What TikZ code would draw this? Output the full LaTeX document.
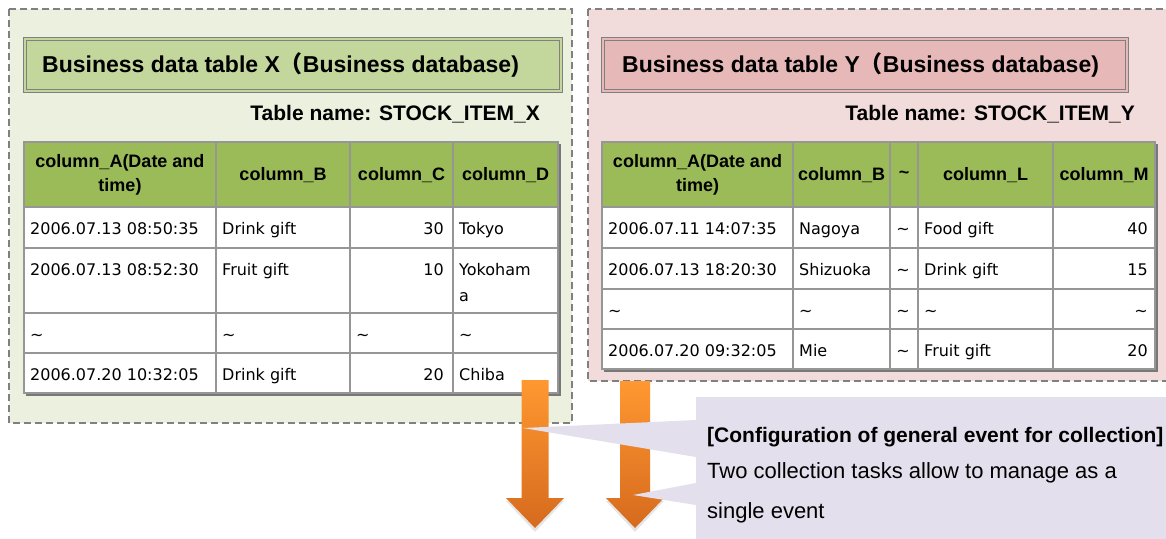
\documentclass[tikz,border=0pt]{standalone}
\usepackage{fontspec}
\setmainfont{Liberation Sans}
\newfontfamily\datafont{DejaVu Sans}
\newfontfamily\cjkfont{Noto Sans CJK JP}

\definecolor{frame}{RGB}{128,128,128}
\definecolor{greenbg}{RGB}{235,241,222}
\definecolor{greentitle}{RGB}{195,214,155}
\definecolor{hdrgreen}{RGB}{155,187,89}
\definecolor{pinkbg}{RGB}{242,220,219}
\definecolor{pinktitle}{RGB}{230,185,184}
\definecolor{gridgray}{RGB}{150,150,150}
\definecolor{shadowgray}{RGB}{120,120,120}
\definecolor{calloutbg}{RGB}{228,223,236}
\definecolor{arrowtop}{RGB}{255,152,48}
\definecolor{arrowbot}{RGB}{214,106,30}

\tikzset{
  groupbox/.style={draw=frame, line width=1.3pt, dash pattern=on 7pt off 4pt},
  titleframe/.style={draw=frame, line width=1pt, double distance=2.2pt},
  titletext/.style={anchor=west, inner sep=0pt, font=\bfseries\fontsize{23}{26}\selectfont},
  tabname/.style={anchor=east, inner sep=0pt, font=\bfseries\fontsize{21}{24}\selectfont},
  gridline/.style={draw=gridgray, line width=1.6pt},
  hdr/.style={anchor=center, align=center, inner sep=0pt, font=\bfseries\fontsize{18}{24}\selectfont},
  cellL/.style={anchor=base west, inner sep=0pt, font=\datafont\fontsize{16}{26}\selectfont},
  cellR/.style={anchor=base east, inner sep=0pt, font=\datafont\fontsize{16}{26}\selectfont},
  cellC/.style={anchor=base, inner sep=0pt, font=\datafont\fontsize{16}{26}\selectfont},
  callhead/.style={anchor=base west, inner sep=0pt, font=\bfseries\fontsize{21}{24}\selectfont},
  callbody/.style={anchor=base west, inner sep=0pt, font=\fontsize{22}{26}\selectfont},
  bigarrow/.style={top color=arrowtop, bottom color=arrowbot},
  headshadow/.style={fill=black, opacity=0.10}
}

\begin{document}
\begin{tikzpicture}[x=1pt, y=-1pt]
\useasboundingbox (0,0) rectangle (1166,538);
\fill[white] (0,0) rectangle (1166,538);

% ---------- group X (green) ----------
\draw[groupbox, fill=greenbg] (9,9) rectangle (572,423);
\draw[titleframe, double=greentitle, fill=greentitle] (25,39) rectangle (561,91);
\node[titletext] (titleX) at (42,65) {Business data table X{\cjkfont （}Business database)};
\node[tabname] (nameX) at (540,114) {Table name: STOCK\_ITEM\_X};

\fill[shadowgray] (26,144) rectangle (560.5,395.5);
\fill[white] (24,142) rectangle (558,393);
\fill[hdrgreen] (24,142) rectangle (558,207);
\foreach \yy in {207,248,313,353} \draw[gridline] (24,\yy) -- (558,\yy);
\foreach \xx in {216,350,453} \draw[gridline] (\xx,142) -- (\xx,393);
\draw[gridline] (24,142) rectangle (558,393);

\node[hdr] (xhA) at (120,175) {column\_A(Date and\\time)};
\node[hdr] (xhB) at (283,175) {column\_B};
\node[hdr] (xhC) at (401.5,175) {column\_C};
\node[hdr] (xhD) at (505.5,175) {column\_D};

\node[cellL] (x1A) at (30,234) {2006.07.13 08:50:35};
\node[cellL] (x1B) at (222,234) {Drink gift};
\node[cellR] (x1C) at (444,234) {30};
\node[cellL] (x1D) at (459,234) {Tokyo};

\node[cellL] (x2A) at (30,275) {2006.07.13 08:52:30};
\node[cellL] (x2B) at (222,275) {Fruit gift};
\node[cellR] (x2C) at (444,275) {10};
\node[cellL] (x2D) at (459,275) {Yokoham};
\node[cellL] (x2Dw) at (459,301) {a};

\node[cellL] (x3A) at (30,340) {\textasciitilde};
\node[cellL] (x3B) at (222,340) {\textasciitilde};
\node[cellL] (x3C) at (356,340) {\textasciitilde};
\node[cellL] (x3D) at (459,340) {\textasciitilde};

\node[cellL] (x4A) at (30,380) {2006.07.20 10:32:05};
\node[cellL] (x4B) at (222,380) {Drink gift};
\node[cellR] (x4C) at (444,380) {20};
\node[cellL] (x4D) at (459,380) {Chiba};

% ---------- group Y (pink) ----------
\draw[groupbox, fill=pinkbg] (588,9) rectangle (1180,381);
\draw[titleframe, double=pinktitle, fill=pinktitle] (603,39) rectangle (1127,91);
\node[titletext] (titleY) at (622,65) {Business data table Y{\cjkfont （}Business database)};
\node[tabname] (nameY) at (1135,114) {Table name: STOCK\_ITEM\_Y};

\fill[shadowgray] (604,144) rectangle (1157.5,371.5);
\fill[white] (602,142) rectangle (1155,369);
\fill[hdrgreen] (602,142) rectangle (1155,207);
\foreach \yy in {207,248,289,329} \draw[gridline] (602,\yy) -- (1155,\yy);
\foreach \xx in {793,890,918,1053} \draw[gridline] (\xx,142) -- (\xx,369);
\draw[gridline] (602,142) rectangle (1155,369);

\node[hdr] (yhA) at (697.5,175) {column\_A(Date and\\time)};
\node[hdr] (yhB) at (841.5,175) {column\_B};
\node[hdr] (yhT) at (904,175) {\textasciitilde};
\node[hdr] (yhL) at (985.5,175) {column\_L};
\node[hdr] (yhM) at (1104,175) {column\_M};

\node[cellL] (y1A) at (608,234) {2006.07.11 14:07:35};
\node[cellL] (y1B) at (799,234) {Nagoya};
\node[cellC] (y1T) at (903,234) {\textasciitilde};
\node[cellL] (y1L) at (924,234) {Food gift};
\node[cellR] (y1M) at (1148,234) {40};

\node[cellL] (y2A) at (608,275) {2006.07.13 18:20:30};
\node[cellL] (y2B) at (799,275) {Shizuoka};
\node[cellC] (y2T) at (903,275) {\textasciitilde};
\node[cellL] (y2L) at (924,275) {Drink gift};
\node[cellR] (y2M) at (1148,275) {15};

\node[cellL] (y3A) at (608,316) {\textasciitilde};
\node[cellL] (y3B) at (799,316) {\textasciitilde};
\node[cellC] (y3T) at (903,316) {\textasciitilde};
\node[cellL] (y3L) at (924,316) {\textasciitilde};
\node[cellR] (y3M) at (1148,316) {\textasciitilde};

\node[cellL] (y4A) at (608,356) {2006.07.20 09:32:05};
\node[cellL] (y4B) at (799,356) {Mie};
\node[cellC] (y4T) at (903,356) {\textasciitilde};
\node[cellL] (y4L) at (924,356) {Fruit gift};
\node[cellR] (y4M) at (1148,356) {20};

% ---------- block arrows ----------
\fill[headshadow] (506,501) -- (564,501) -- (535,532) -- cycle;
\fill[headshadow] (606,501) -- (664,501) -- (635,532) -- cycle;
\shade[bigarrow] (521.5,380) -- (548.5,380) -- (548.5,498) -- (564,498)
  -- (535,528) -- (506,498) -- (521.5,498) -- cycle;
\shade[bigarrow] (620,381) -- (650,381) -- (650,498) -- (664,498)
  -- (635,528) -- (606,498) -- (620,498) -- cycle;

% ---------- callout ----------
\fill[calloutbg] (696,397) -- (1180,397) -- (1180,545) -- (696,545)
  -- (696,505) -- (633,495) -- (696,483) -- (696,457) -- (523,428)
  -- (696,420) -- cycle;
\node[callhead] (callHead) at (707,442) {[Configuration of general event for collection]};
\node[callbody] (callLine1) at (707,478) {Two collection tasks allow to manage as a};
\node[callbody] (callLine2) at (707,518) {single event};
\end{tikzpicture}
\end{document}
